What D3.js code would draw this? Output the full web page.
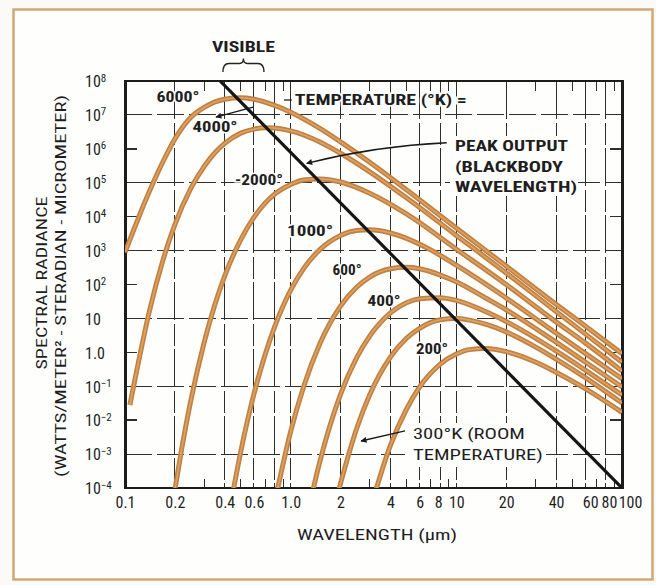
<!DOCTYPE html>
<html><head><meta charset="utf-8">
<script src="https://cdn.jsdelivr.net/npm/d3@7"></script>
<style>
html,body{margin:0;padding:0;background:#fbfaf6;}
svg{display:block;}
text{font-family:"Liberation Sans Narrow","Arial Narrow","Roboto Condensed","DejaVu Sans Condensed","Liberation Sans",sans-serif;fill:#1e1e1e;}
</style></head><body>
<svg id="chart" width="656" height="585"></svg>
<script>
// ---------------- data ----------------
const temperatures = [6000, 4000, 2000, 1000, 600, 400, 300, 200];

const wl6000  = [0.1, 0.11, 0.12, 0.13, 0.15, 0.17, 0.2, 0.25, 0.3, 0.4, 0.5, 0.6, 0.8, 1, 1.5, 2, 3, 5, 10, 20, 40, 60, 100];
const rad6000 = [8.9e2, 2.95e3, 8.7e3, 2.3e4, 1.17e5, 4.3e5, 1.95e6, 8.5e6, 1.66e7, 2.9e7, 3.2e7, 2.9e7, 1.9e7, 1.2e7, 4.0e6, 1.6e6, 4.0e5, 6.2e4, 4.6e3, 3.5e2, 26, 6.0, 0.91];

const wl4000  = [0.107, 0.12, 0.14, 0.17, 0.2, 0.25, 0.3, 0.35, 0.4, 0.5, 0.6, 0.7, 0.8, 1, 1.5, 2, 3, 5, 10, 20, 40, 60, 100];
const rad4000 = [0.028, 0.46, 15.5, 5.5e2, 5.8e3, 6.9e4, 3.0e5, 7.8e5, 1.45e6, 2.9e6, 3.8e6, 4.2e6, 4.1e6, 3.4e6, 1.6e6, 7.4e5, 2.1e5, 3.6e4, 2.8e3, 2.2e2, 16, 3.5, 0.51];

const wl2000  = [0.198, 0.22, 0.25, 0.3, 0.35, 0.4, 0.5, 0.6, 0.8, 1, 1.2, 1.5, 2, 3, 5, 10, 20, 40, 60, 100];
const rad2000 = [6.5e-5, 1.45e-3, 0.039, 1.9, 27, 1.8e2, 2.1e3, 9.5e3, 4.6e4, 8.9e4, 1.2e5, 1.3e5, 1.05e5, 4.9e4, 1.2e4, 1.1e3, 1.0e2, 7.9, 1.9, 0.28];

const wl1000  = [0.445, 0.5, 0.6, 0.7, 0.8, 1, 1.2, 1.5, 2, 2.5, 3, 4, 5, 7, 10, 20, 40, 60, 100];
const rad1000 = [6.2e-5, 1.2e-3, 0.059, 0.83, 5.6, 68, 3.0e2, 1.07e3, 2.8e3, 3.9e3, 4.1e3, 3.3e3, 2.3e3, 1.05e3, 3.7e2, 40, 3.7, 0.93, 0.166];

const wl600   = [0.83, 1, 1.2, 1.5, 2, 2.5, 3, 4, 5, 6, 8, 10, 15, 20, 40, 60, 100];
const rad600  = [8.5e-5, 4.6e-3, 0.1, 1.8, 23, 83, 1.66e2, 2.9e2, 3.2e2, 2.9e2, 1.9e2, 1.2e2, 40, 18, 2.0, 0.52, 0.095];

const wl400   = [1.35, 1.5, 2, 2.5, 3, 4, 5, 6, 8, 10, 15, 20, 40, 60, 100];
const rad400  = [7.1e-5, 6.0e-4, 0.058, 0.69, 3.0, 14.5, 29, 38, 41, 34, 16, 8.1, 1.1, 0.3, 0.055];

const wl300   = [1.93, 2.5, 3, 4, 5, 6, 8, 10, 12, 15, 20, 30, 40, 60, 100];
const rad300  = [7.2e-5, 5.6e-3, 0.056, 0.72, 2.6, 5.1, 9.1, 10, 8.9, 6.8, 4.0, 1.45, 0.63, 0.18, 0.032];

const wl200   = [3.2, 4, 5, 6, 8, 10, 12, 15, 20, 30, 40, 60, 100];
const rad200  = [6.2e-5, 1.8e-3, 0.021, 0.095, 0.45, 0.89, 1.2, 1.3, 1.05, 0.52, 0.26, 0.085, 0.017];

const peakLineWl  = [0.375, 100];
const peakLineRad = [1e8, 1e-4];
const visibleRange = [0.39, 0.69];

const xTickValues = [0.1, 0.2, 0.4, 0.6, 1, 2, 4, 6, 8, 10, 20, 40, 60, 80, 100];
const xTickLabels = ["0.1", "0.2", "0.4", "0.6", "1.0", "2", "4", "6", "8", "10", "20", "40", "60", "80", "100"];
const yTickValues = [1e8, 1e7, 1e6, 1e5, 1e4, 1e3, 1e2, 1e1, 1, 1e-1, 1e-2, 1e-3, 1e-4];
const yTickLabels = ["10^8", "10^7", "10^6", "10^5", "10^4", "10^3", "10^2", "10", "1.0", "10^-1", "10^-2", "10^-3", "10^-4"];
const hGridValues = [1e7, 1e5, 1e3, 1e1, 1e-1, 1e-3];
const edgeTickValues = [1e6, 1e4, 1e2, 1, 1e-2];
const vGridValues = [0.2, 0.4, 0.6, 0.8, 1, 2, 4, 6, 8, 10, 20, 40, 60, 80];
const minorTickValues = [0.3, 0.5, 0.7, 0.9, 3, 5, 7, 9, 30, 50, 70, 90];
const curveLabels = ["6000°", "4000°", "-2000°", "1000°", "600°", "400°", "200°"];

// ---------------- drawing ----------------
const svg = d3.select("#chart");
const W = 656, H = 585;
svg.append("rect").attr("width", W).attr("height", H).attr("fill", "#fbfaf6");
svg.append("rect").attr("x", 13.5).attr("y", 9.5).attr("width", 639).attr("height", 570)
  .attr("fill", "#fefefd").attr("stroke", "#d3a673").attr("stroke-width", 2.5);

const x = d3.scaleLog().domain([0.1, 100]).range([125, 622]);
const y = d3.scaleLog().domain([1e-4, 1e8]).range([488, 81]);
const L = x.range()[0], R = x.range()[1], T = y.range()[1], B = y.range()[0];
const P = (w, r) => [x(w), y(r)];

// grid
const grid = svg.append("g").attr("stroke", "#2e2e2e").attr("stroke-width", 1).attr("fill", "none")
  .attr("shape-rendering", "crispEdges");
grid.selectAll("line.h").data(hGridValues).join("line").attr("class", "h")
  .attr("x1", L).attr("x2", R).attr("y1", d => y(d)).attr("y2", d => y(d))
  .attr("stroke-dasharray", "27,5");
grid.selectAll("line.v").data(vGridValues).join("line").attr("class", "v")
  .attr("x1", d => x(d)).attr("x2", d => x(d)).attr("y1", T).attr("y2", B)
  .attr("stroke-dasharray", "38,4,22,3");
grid.selectAll("line.el").data(edgeTickValues).join("line").attr("class", "el")
  .attr("x1", L).attr("x2", L + 12).attr("y1", d => y(d)).attr("y2", d => y(d)).attr("stroke-width", 1.5);
grid.selectAll("line.er").data(edgeTickValues).join("line").attr("class", "er")
  .attr("x1", R - 12).attr("x2", R).attr("y1", d => y(d)).attr("y2", d => y(d)).attr("stroke-width", 1.5);
grid.selectAll("line.mt").data(minorTickValues).join("line").attr("class", "mt")
  .attr("x1", d => x(d)).attr("x2", d => x(d)).attr("y1", T).attr("y2", T + 10);
grid.selectAll("line.mb").data(minorTickValues).join("line").attr("class", "mb")
  .attr("x1", d => x(d)).attr("x2", d => x(d)).attr("y1", B - 9).attr("y2", B);

// white patches behind annotation blocks
svg.append("rect").attr("x", 450).attr("y", 136).attr("width", 128).attr("height", 60).attr("fill", "#fefefd");
svg.append("rect").attr("x", 405).attr("y", 423).attr("width", 141).attr("height", 44).attr("fill", "#fefefd");

// frame
const frame = svg.append("g").attr("stroke", "#1c1c1c").attr("shape-rendering", "crispEdges");
frame.append("line").attr("x1", L).attr("x2", L).attr("y1", T - 1).attr("y2", B + 1).attr("stroke-width", 3);
frame.append("line").attr("x1", R).attr("x2", R).attr("y1", T - 1).attr("y2", B + 1).attr("stroke-width", 3);
frame.append("line").attr("x1", L).attr("x2", R).attr("y1", T).attr("y2", T).attr("stroke-width", 2);
frame.append("line").attr("x1", L).attr("x2", R).attr("y1", B).attr("y2", B).attr("stroke-width", 2);

// clip
svg.append("clipPath").attr("id", "plotclip").append("rect")
  .attr("x", L).attr("y", T).attr("width", R - L).attr("height", B - T);

// curves
const series = [
  [wl6000, rad6000], [wl4000, rad4000], [wl2000, rad2000], [wl1000, rad1000],
  [wl600, rad600], [wl400, rad400], [wl300, rad300], [wl200, rad200]
].map(([w, r], i) => ({ temp: temperatures[i], pts: w.map((v, j) => [v, r[j]]) }));

const line = d3.line().x(d => x(d[0])).y(d => y(d[1])).curve(d3.curveMonotoneX);
const cg = svg.append("g").attr("clip-path", "url(#plotclip)").attr("fill", "none");
cg.selectAll("path.outer").data(series).join("path").attr("class", "outer")
  .attr("d", d => line(d.pts)).attr("stroke", "#c3803f").attr("stroke-width", 5)
  .attr("stroke-linecap", "butt");
cg.selectAll("path.inner").data(series).join("path").attr("class", "inner")
  .attr("d", d => line(d.pts)).attr("stroke", "#d8a46b").attr("stroke-width", 1.6);

// peak (Wien) line
cg.append("path").datum(peakLineWl.map((w, i) => [w, peakLineRad[i]]))
  .attr("d", d3.line().x(d => x(d[0])).y(d => y(d[1])))
  .attr("stroke", "#151515").attr("stroke-width", 3.2);

// axes
const gx = svg.append("g").attr("transform", "translate(0,497)")
  .call(d3.axisBottom(x).tickValues(xTickValues).tickFormat((d, i) => xTickLabels[i]).tickSize(0).tickPadding(0));
gx.select(".domain").remove();
gx.selectAll(".tick line").remove();
gx.attr("font-family", null).attr("font-size", 16);
const xLabelShift = { 8: -2, 60: 5, 80: 3, 100: 8 };
gx.selectAll(".tick text").attr("fill", "#1e1e1e").attr("dx", d => (xLabelShift[d] || 0));

const gy = svg.append("g").attr("transform", "translate(85,0)")
  .call(d3.axisLeft(y).tickValues(yTickValues).tickFormat(() => "").tickSize(0));
gy.select(".domain").remove();
gy.selectAll(".tick line").remove();
gy.attr("font-family", null).attr("font-size", 16).attr("text-anchor", "start");
gy.selectAll(".tick text").each(function (d, i) {
  const t = d3.select(this).attr("x", 0).attr("dy", "0.36em").attr("fill", "#1e1e1e");
  const parts = yTickLabels[i].split("^");
  t.text(null);
  t.append("tspan").text(parts[0]);
  if (parts[1]) t.append("tspan").attr("dy", "-0.52em").attr("font-size", "11px").text(parts[1].replace("-", "−"));
});

// axis titles
svg.append("text").attr("transform", "translate(42,283) rotate(-90)")
  .attr("text-anchor", "middle").attr("dominant-baseline", "central").attr("font-size", 15)
  .attr("textLength", 173).attr("lengthAdjust", "spacingAndGlyphs").text("SPECTRAL RADIANCE");
svg.append("text").attr("transform", "translate(61,286) rotate(-90)")
  .attr("text-anchor", "middle").attr("dominant-baseline", "central").attr("font-size", 15)
  .attr("textLength", 382).attr("lengthAdjust", "spacingAndGlyphs").text("(WATTS/METER² - STERADIAN - MICROMETER)");
svg.append("text").attr("x", 377).attr("y", 535)
  .attr("text-anchor", "middle").attr("dominant-baseline", "central").attr("font-size", 15)
  .attr("textLength", 160).attr("lengthAdjust", "spacingAndGlyphs").text("WAVELENGTH (μm)");

// curve labels
const labelPos = [[0.209, 3.4e7], [0.35, 4.4e6], [0.644, 1.2e5], [1.31, 3.8e3], [2.19, 2.7e2], [3.66, 33], [7.13, 1.25]];
const labelLen = [43, 45, 48, 46, 29, 33, 32];
svg.append("g").selectAll("text").data(curveLabels).join("text")
  .attr("x", (d, i) => x(labelPos[i][0])).attr("y", (d, i) => y(labelPos[i][1]))
  .attr("text-anchor", "middle").attr("dominant-baseline", "central")
  .attr("font-size", 14).attr("font-weight", "bold")
  .attr("stroke", "#fefefd").attr("stroke-width", 3).attr("paint-order", "stroke")
  .attr("textLength", (d, i) => labelLen[i]).attr("lengthAdjust", "spacingAndGlyphs")
  .text(d => d);

// annotations
const ann = svg.append("g");
function label(txt, px, py, opts) {
  const t = ann.append("text").attr("x", px).attr("y", py).attr("dominant-baseline", "central")
    .attr("font-size", opts.size || 14).attr("font-weight", opts.bold ? "bold" : "normal")
    .attr("text-anchor", opts.anchor || "start").text(txt);
  if (opts.len) t.attr("textLength", opts.len).attr("lengthAdjust", "spacingAndGlyphs");
  if (opts.halo) t.attr("stroke", "#fefefd").attr("stroke-width", 3).attr("paint-order", "stroke");
  return t;
}
label("TEMPERATURE (°K) =", x(1.06), y(2.75e7), { bold: true, size: 14, len: 172, halo: true });
ann.append("line").attr("x1", x(1.06) - 11).attr("x2", x(1.06) - 3).attr("y1", y(2.75e7)).attr("y2", y(2.75e7))
  .attr("stroke", "#222").attr("stroke-width", 1.3);
label("PEAK OUTPUT", x(9.82), 146, { bold: true, size: 15, len: 113 });
label("(BLACKBODY", x(9.82), 166.5, { bold: true, size: 15, len: 108 });
label("WAVELENGTH)", x(9.82), 187, { bold: true, size: 15, len: 122 });
label("300°K (ROOM", x(5.47), 433.5, { size: 15, len: 112 });
label("TEMPERATURE)", x(5.47), 455, { size: 15, len: 130 });

const vx0 = x(visibleRange[0]), vx1 = x(visibleRange[1]), vxm = (vx0 + vx1) / 2;
label("VISIBLE", vxm, 47, { bold: true, size: 14, len: 63, anchor: "middle" });
ann.append("path")
  .attr("d", `M${vx0},72 Q${vx0},63.5 ${vx0 + 6},63.5 L${vxm - 4},63.5 Q${vxm},63.5 ${vxm},58.5 Q${vxm},63.5 ${vxm + 4},63.5 L${vx1 - 6},63.5 Q${vx1},63.5 ${vx1},72`)
  .attr("fill", "none").attr("stroke", "#222").attr("stroke-width", 1.4);

// arrows
const defs = svg.append("defs");
defs.append("marker").attr("id", "ah").attr("viewBox", "0 0 10 10").attr("refX", 9).attr("refY", 5)
  .attr("markerWidth", 9).attr("markerHeight", 6).attr("orient", "auto").attr("markerUnits", "userSpaceOnUse")
  .append("path").attr("d", "M0,0 L10,5 L0,10 z").attr("fill", "#1a1a1a");
function arrow(p0, pc, p1) {
  const a = P(...p0), c = pc ? P(...pc) : null, b = P(...p1);
  ann.append("path").attr("d", c ? `M${a[0]},${a[1]} Q${c[0]},${c[1]} ${b[0]},${b[1]}` : `M${a[0]},${a[1]} L${b[0]},${b[1]}`)
    .attr("fill", "none").attr("stroke", "#1a1a1a").attr("stroke-width", 1.3).attr("marker-end", "url(#ah)");
}
arrow([8.75, 1.51e6], [3.23, 1.21e6], [1.25, 3.74e5]);
arrow([4.90, 4.8e-3], null, [2.66, 2.43e-3]);
arrow([0.592, 1.7e7], null, [0.354, 8.6e6]);
</script>
</body></html>
